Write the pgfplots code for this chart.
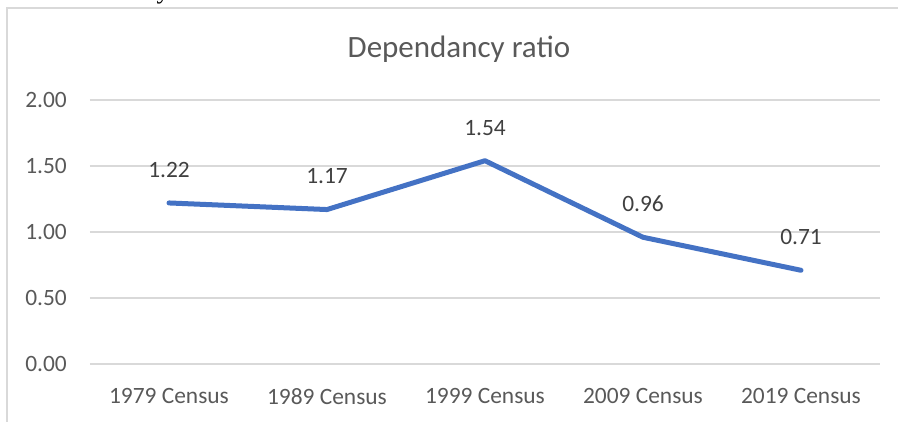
\documentclass[border=0pt]{standalone}
\usepackage{pgfplots}
\pgfplotsset{compat=1.18}
\usepackage{fontspec}
\setmainfont{Carlito}
\newfontfamily\serifbody{Liberation Serif}
\definecolor{linecol}{HTML}{4472C4}
\definecolor{txt}{HTML}{595959}
\definecolor{lbl}{HTML}{404040}
\definecolor{gridc}{HTML}{D9D9D9}
\begin{document}
\begin{tikzpicture}[x=1pt,y=1pt]
\useasboundingbox (0,0) rectangle (898,422);
\draw[gridc, line width=1.5pt] (7,414) rectangle (930,-30);
\node[anchor=base, inner sep=0pt, font=\serifbody\fontsize{26}{30}\selectfont] at (163,423) {y};
\begin{axis}[
  at={(90pt,58pt)}, anchor=south west,
  scale only axis, width=790pt, height=264pt,
  xmin=-0.5, xmax=4.5, ymin=0, ymax=2,
  xtick={0,1,2,3,4},
  xticklabels={1979 Census,1989 Census,1999 Census,2009 Census,2019 Census},
  ytick={0,0.5,1,1.5,2},
  ymajorgrids, grid style={gridc, line width=1.5pt},
  axis line style={draw=none}, major tick length=0pt,
  /pgf/number format/.cd, fixed, fixed zerofill, precision=2, assume math mode=true,
  /pgfplots/.cd,
  ticklabel style={font=\fontsize{23.4}{27}\selectfont, text=txt, inner sep=0pt},
  yticklabel style={anchor=east, xshift=-23pt},
  xticklabel style={anchor=north, yshift=-24pt},
  title={Dependancy ratio},
  title style={at={(axis description cs:0.467,1.17)}, anchor=center, inner sep=0pt,
    font=\fontsize{31}{36}\selectfont, text=txt},
  clip=false,
]
\addplot[linecol, line width=5pt, line join=round, line cap=round,
  nodes near coords,
  every node near coord/.append style={font=\fontsize{23.4}{27}\selectfont, text=lbl,
    anchor=south, inner sep=0pt, yshift=23pt}]
  coordinates {(0,1.22) (1,1.17) (2,1.54) (3,0.96) (4,0.71)};
\end{axis}
\end{tikzpicture}
\end{document}
